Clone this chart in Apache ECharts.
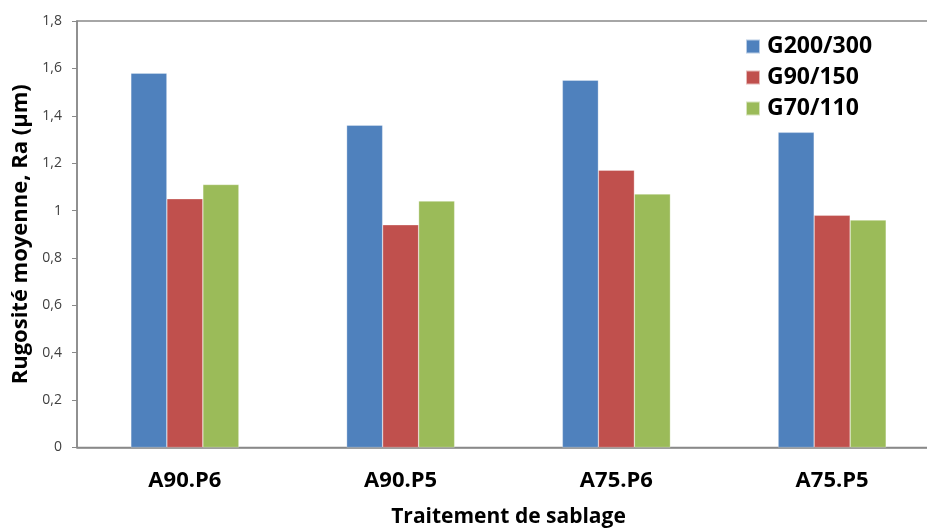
<!DOCTYPE html>
<html>
<head>
<meta charset="utf-8">
<script src="https://cdn.jsdelivr.net/npm/echarts@6/dist/echarts.min.js"></script>
<style>html,body{margin:0;padding:0;background:#fff}#c{width:927px;height:528px}</style>
</head>
<body>
<div id="c"></div>
<script>
const categories = ['A90.P6', 'A90.P5', 'A75.P6', 'A75.P5'];
const seriesNames = ['G200/300', 'G90/150', 'G70/110'];
const g200 = [1.58, 1.36, 1.55, 1.33];
const g90 = [1.05, 0.94, 1.17, 0.98];
const g70 = [1.11, 1.04, 1.07, 0.96];
const colors = ['#4F81BD', '#C0504D', '#9BBB59'];
const yTicks = { min: 0, max: 1.8, interval: 0.2 };

const font = '"Open Sans", Lato, sans-serif';
const chart = echarts.init(document.getElementById('c'), null, { renderer: 'canvas' });
const mk = (name, data, i) => ({
  name, type: 'bar', data,
  barWidth: 36, barGap: '0%',
  itemStyle: { color: colors[i], borderColor: 'rgba(255,255,255,0.6)', borderWidth: 0.5 }
});
chart.setOption({
  animation: false,
  color: colors,
  grid: { left: 77, top: 21, width: 863, height: 426.5, containLabel: false, outerBoundsMode: 'none',
    show: true, borderColor: '#898989', borderWidth: 1.5, backgroundColor: 'transparent' },
  legend: {
    orient: 'vertical', left: 740, top: 30, itemWidth: 14, itemHeight: 14, itemGap: 8,
    icon: 'rect',
    textStyle: { fontFamily: font, fontWeight: 'bold', fontSize: 23, lineHeight: 22, color: '#000', padding: [0, 0, 0, 2] },
    data: seriesNames
  },
  xAxis: {
    type: 'category', data: categories,
    axisLine: { lineStyle: { color: '#898989', width: 1.5 } },
    axisTick: { show: false },
    axisLabel: { fontFamily: font, fontWeight: 'bold', fontSize: 22, color: '#000', margin: 22 },
    name: 'Traitement de sablage', nameLocation: 'middle', nameGap: 59,
    nameTextStyle: { fontFamily: font, fontWeight: 'bold', fontSize: 21, color: '#000' }
  },
  yAxis: {
    type: 'value', min: yTicks.min, max: yTicks.max, interval: yTicks.interval,
    axisLine: { show: true, lineStyle: { color: '#898989', width: 1.5 } },
    axisTick: { show: true, length: 5, lineStyle: { color: '#898989', width: 1 } },
    splitLine: { show: false },
    axisLabel: { fontFamily: font, fontSize: 14, color: '#404040', margin: 15,
      formatter: v => (Math.round(v * 10) / 10).toString().replace('.', ',') },
    name: 'Rugosité moyenne, Ra (µm)', nameLocation: 'middle', nameGap: 44, nameRotate: 90,
    nameTextStyle: { fontFamily: font, fontWeight: 'bold', fontSize: 22, color: '#000' }
  },
  series: [mk(seriesNames[0], g200, 0), mk(seriesNames[1], g90, 1), mk(seriesNames[2], g70, 2)]
});
</script>
</body>
</html>
